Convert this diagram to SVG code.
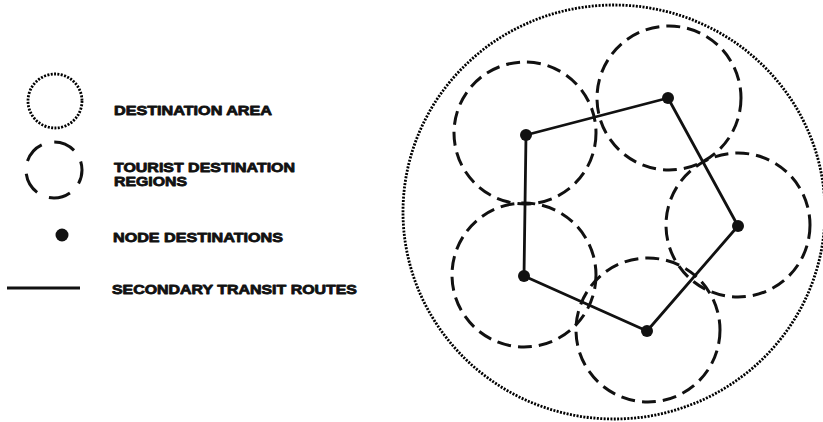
<svg xmlns="http://www.w3.org/2000/svg" width="823" height="422" viewBox="0 0 823 422">
<style>
.bg{fill:#fff}
.dotted{fill:none;stroke:#000;stroke-width:2.8;stroke-dasharray:2 1.4}
.dashed{fill:none;stroke:#111;stroke-width:3;stroke-dasharray:14 7}
.route{fill:none;stroke:#111;stroke-width:2.8;stroke-linejoin:round}
.node{fill:#111}
.lbl{font-family:"Liberation Sans",Arial,sans-serif;font-weight:bold;font-size:13px;fill:#111;stroke:#111;stroke-width:0.8;stroke-linejoin:round}
</style>
<rect class="bg" x="0" y="0" width="823" height="422"/>
<g id="legend">
  <g id="legend-area"><circle class="dotted" cx="55" cy="101" r="27"/><text class="lbl" x="114" y="115" textLength="158" lengthAdjust="spacingAndGlyphs">DESTINATION AREA</text></g>
  <g id="legend-regions"><circle class="dashed" cx="54" cy="170" r="28" style="stroke-dasharray:22 13;stroke-dashoffset:8"/><text class="lbl" x="114" y="172" textLength="181" lengthAdjust="spacingAndGlyphs">TOURIST DESTINATION</text><text class="lbl" x="114" y="186" textLength="73" lengthAdjust="spacingAndGlyphs">REGIONS</text></g>
  <g id="legend-node"><circle class="node" cx="62" cy="235" r="6.5"/><text class="lbl" x="113" y="242" textLength="170" lengthAdjust="spacingAndGlyphs">NODE DESTINATIONS</text></g>
  <g id="legend-route"><line class="route" x1="7" y1="288" x2="80" y2="288"/><text class="lbl" x="112" y="294" textLength="245" lengthAdjust="spacingAndGlyphs">SECONDARY TRANSIT ROUTES</text></g>
</g>
<g id="destination-area"><ellipse class="dotted" cx="614" cy="212" rx="211" ry="207"/></g>
<g id="regions">
  <g id="region-1"><circle class="dashed" cx="525" cy="133" r="71"/></g>
  <g id="region-2"><circle class="dashed" cx="669" cy="98" r="72"/></g>
  <g id="region-3"><circle class="dashed" cx="738" cy="225" r="72"/></g>
  <g id="region-4"><circle class="dashed" cx="648" cy="330" r="72"/></g>
  <g id="region-5"><circle class="dashed" cx="524" cy="275" r="72"/></g>
</g>
<g id="connectors">
  <polygon class="route" points="526,135 668,98 738,226 647,331 524,276"/>
</g>
<g id="nodes">
  <g id="node-1"><circle class="node" cx="526" cy="135" r="6"/></g>
  <g id="node-2"><circle class="node" cx="668" cy="98" r="6"/></g>
  <g id="node-3"><circle class="node" cx="738" cy="226" r="6"/></g>
  <g id="node-4"><circle class="node" cx="647" cy="331" r="6"/></g>
  <g id="node-5"><circle class="node" cx="524" cy="276" r="6"/></g>
</g>
</svg>
